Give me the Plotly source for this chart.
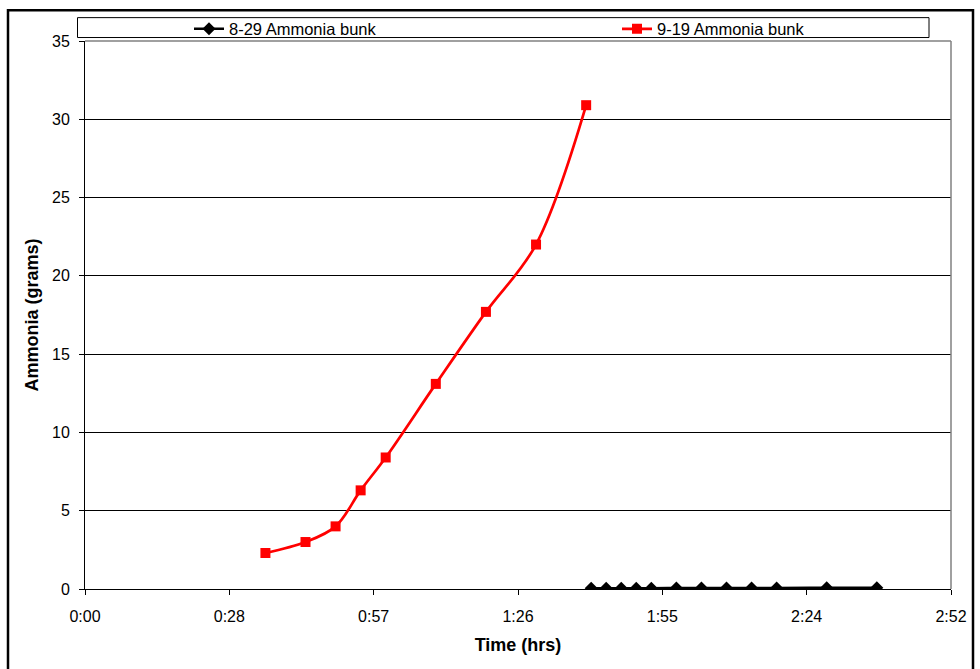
import plotly.graph_objects as go

# ---- data ----
time_829_min = [101, 104, 107, 110, 113, 118, 123, 128, 133, 138, 148, 158]
ammonia_829 = [0.05, 0.05, 0.05, 0.05, 0.05, 0.06, 0.06, 0.07, 0.07, 0.07, 0.08, 0.08]

time_919_min = [36, 44, 50, 55, 60, 70, 80, 90, 100]
ammonia_919 = [2.3, 3.0, 4.0, 6.3, 8.4, 13.1, 17.7, 22.0, 30.9]

x_tick_vals = [0, 28.8, 57.6, 86.4, 115.2, 144.0, 172.8]
x_tick_text = ["0:00", "0:28", "0:57", "1:26", "1:55", "2:24", "2:52"]
y_tick_vals = [0, 5, 10, 15, 20, 25, 30, 35]

W, H = 980, 669
L, R, T, B = 85, 29, 38, 80
PW, PH = W - L - R, H - T - B


def px(x):
    return (x - L) / PW


def py(y):
    return 1 - (y - T) / PH


fig = go.Figure()
fig.add_trace(go.Scatter(
    x=time_829_min, y=ammonia_829, name="8-29 Ammonia bunk",
    mode="lines+markers", line=dict(color="black", width=2.5, shape="spline"),
    marker=dict(symbol="diamond", size=10, color="black"),
    legend="legend",
))
fig.add_trace(go.Scatter(
    x=time_919_min, y=ammonia_919, name="9-19 Ammonia bunk",
    mode="lines+markers", line=dict(color="#ff0000", width=2.7, shape="spline"),
    marker=dict(symbol="square", size=10, color="#ff0000"),
    legend="legend2",
))

font = "Liberation Sans, Arial, sans-serif"
leg_common = dict(orientation="h", yanchor="middle", y=py(26),
                  bgcolor="rgba(0,0,0,0)", borderwidth=0, font=dict(size=16.5),
                  itemwidth=30, xanchor="left")
fig.update_layout(
    width=W, height=H,
    margin=dict(l=L, r=R, t=T, b=B),
    paper_bgcolor="white", plot_bgcolor="white",
    font=dict(family=font, size=16, color="black"),
    showlegend=True,
    legend=dict(x=px(189), **leg_common),
    legend2=dict(x=px(617), **leg_common),
    xaxis=dict(range=[0, 172.8], tickvals=x_tick_vals, ticktext=x_tick_text,
               showgrid=False, zeroline=False, showline=True, linecolor="black",
               linewidth=1, ticks="outside", ticklen=5, tickcolor="black",
               ticklabelstandoff=8,
               title=dict(text="<b>Time (hrs)</b>", font=dict(size=18), standoff=14)),
    yaxis=dict(range=[0, 35], tickvals=y_tick_vals, showgrid=True, gridcolor="black",
               gridwidth=1, zeroline=False, showline=True, linecolor="black",
               linewidth=1, ticks="outside", ticklen=5, tickcolor="black",
               ticklabelstandoff=6,
               title=dict(text="<b>Ammonia (grams)</b>", font=dict(size=18), standoff=8)),
    shapes=[
        # outer chart border
        dict(type="rect", xref="paper", yref="paper", x0=px(8), x1=px(973),
             y0=py(675), y1=py(7), line=dict(color="black", width=2.5),
             fillcolor="rgba(0,0,0,0)", layer="above"),
        # legend box
        dict(type="rect", xref="paper", yref="paper", x0=px(77.5), x1=px(929),
             y0=py(34.5), y1=py(14.5), line=dict(color="black", width=1),
             fillcolor="white", layer="below"),
        # plot area gray border (top & right)
        dict(type="line", xref="paper", yref="paper", x0=0, x1=1, y0=1, y1=1,
             line=dict(color="#808080", width=1.5), layer="above"),
        dict(type="line", xref="paper", yref="paper", x0=1, x1=1, y0=0, y1=1,
             line=dict(color="#808080", width=1.5), layer="above"),
    ],
)

fig.write_html("out.html")
